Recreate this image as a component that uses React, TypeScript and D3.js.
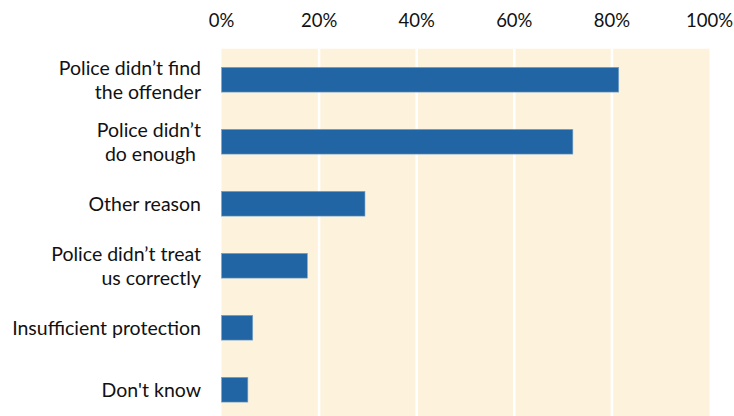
import React from "react";
import * as d3 from "d3";

const categories: string[][] = [
  ["Police didn’t find", "the offender"],
  ["Police didn’t", "do enough "],
  ["Other reason"],
  ["Police didn’t treat", "us correctly"],
  ["Insufficient protection"],
  ["Don't know"],
];
const values: number[] = [81.4, 72.0, 29.4, 17.6, 6.4, 5.4];
const ticks: number[] = [0, 20, 40, 60, 80, 100];

const W = 734;
const H = 416;
const left = 221.5;
const right = 709.5;
const top = 48.7;
const step = 62;

export default function App() {
  const x = d3.scaleLinear().domain([0, 100]).range([left, right]);
  const y = d3
    .scaleBand<number>()
    .domain(d3.range(categories.length))
    .range([top, top + step * categories.length])
    .paddingInner(0.6)
    .paddingOuter(0.3);
  const font = "Lato, 'Open Sans', sans-serif";
  return (
    <svg
      width={W}
      height={H}
      style={{ position: "fixed", left: 0, top: 0, background: "#fff" }}
    >
      <rect
        x={x(0)}
        y={top}
        width={x(100) - x(0)}
        height={step * categories.length}
        fill="#fdf3dc"
      />
      {ticks.slice(1, -1).map((t) => (
        <line
          key={t}
          x1={x(t)}
          x2={x(t)}
          y1={top}
          y2={top + step * categories.length}
          stroke="#fff"
          strokeWidth={2.5}
        />
      ))}
      {ticks.map((t) => (
        <text
          key={t}
          x={x(t)}
          y={20}
          textAnchor="middle"
          dominantBaseline="central"
          fontFamily={font}
          fontSize={18.5}
          fill="#111"
        >
          {t}%
        </text>
      ))}
      {values.map((v, i) => (
        <rect
          key={i}
          x={x(0)}
          y={y(i)!}
          width={x(v) - x(0)}
          height={y.bandwidth()}
          fill="#2165a5"
          stroke="#7fa6cf"
          strokeWidth={0.6}
        />
      ))}
      {categories.map((lines, i) => {
        const cy = y(i)! + y.bandwidth() / 2;
        const lh = 24;
        return lines.map((ln, j) => (
          <text
            key={i + "-" + j}
            x={201}
            y={cy + (j - (lines.length - 1) / 2) * lh}
            textAnchor="end"
            dominantBaseline="central"
            fontFamily={font}
            fontSize={19.5}
            fill="#111"
            style={{ whiteSpace: "pre" }}
          >
            {ln}
          </text>
        ));
      })}
    </svg>
  );
}
